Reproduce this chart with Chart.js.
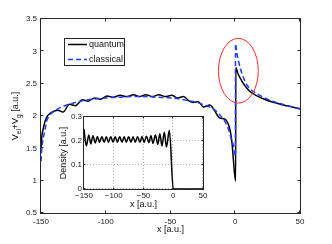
<!DOCTYPE html>
<html lang="en">
<head>
  <meta charset="UTF-8">
  <title>Vel + Vg - quantum vs classical</title>
  <script src="https://cdn.jsdelivr.net/npm/chart.js"></script>
  <style>
    html, body { margin: 0; padding: 0; background: #fff; }
    #wrap { position: relative; width: 332px; height: 244px; }
    #main { position: absolute; left: 0; top: 0; }
    #inset { position: absolute; left: 50px; top: 110px; }
  </style>
</head>
<body>
  <div id="wrap">
    <canvas id="main" width="332" height="244"></canvas>
    <canvas id="inset" width="160" height="106"></canvas>
  </div>

  <script>
    // --- data ---
    const quantumX = [-150, -149.3, -148.3, -147, -145, -143, -140.5, -137, -133, -128, -123.5, -118, -113.5, -108.5, -104, -99, -94, -89, -84, -78.5, -74, -69, -64, -59, -54, -49, -44.5, -40, -35.5, -32.5, -28.5, -24.5, -19.5, -16.5, -12, -8, -4, -2.5, 0.3, 0.4, 2, 4, 6, 9, 12, 16, 20, 25, 30, 37, 44, 50];
    const quantumY = [1.50, 1.70, 1.80, 1.91, 2.00, 2.04, 2.07, 2.09, 2.06, 2.18, 2.16, 2.25, 2.23, 2.28, 2.26, 2.31, 2.29, 2.32, 2.30, 2.33, 2.30, 2.33, 2.30, 2.33, 2.30, 2.32, 2.28, 2.30, 2.23, 2.21, 2.22, 2.14, 2.17, 2.10, 1.97, 1.95, 1.78, 1.58, 0.99, 2.75, 2.66, 2.58, 2.51, 2.43, 2.37, 2.32, 2.28, 2.24, 2.21, 2.17, 2.14, 2.11];

    const classicalX = [-150, -149.2, -148, -147, -145.5, -144, -141, -138, -134, -130, -125, -119, -110, -100, -90, -80, -70, -60, -50, -42, -37, -30, -25, -20, -15, -10, -7, -5, -3, -1.5, -0.3, 0.1, 0.2, 1, 2.4, 4, 5.5, 7, 9, 12, 14, 18, 25, 30, 37, 44, 50];
    const classicalY = [1.30, 1.53, 1.68, 1.78, 1.93, 1.99, 2.06, 2.10, 2.14, 2.17, 2.20, 2.23, 2.26, 2.28, 2.29, 2.30, 2.30, 2.29, 2.28, 2.26, 2.24, 2.21, 2.18, 2.14, 2.08, 1.97, 1.88, 1.78, 1.64, 1.55, 1.42, 1.38, 3.12, 3.00, 2.86, 2.73, 2.64, 2.56, 2.48, 2.41, 2.38, 2.33, 2.26, 2.22, 2.18, 2.14, 2.11];

    const densityX = [-150, -148.5, -146, -142, -138.5, -135, -131, -127.5, -124, -120, -116, -112.5, -109, -105, -101, -97.5, -94, -90, -86, -82.5, -79, -75, -71, -67.5, -64, -60, -56, -52.5, -49, -45, -41, -37.5, -34, -30, -26, -22.5, -19, -15, -11.5, -6.5, 0, 50];
    const densityY = [0.25, 0.215, 0.180, 0.225, 0.188, 0.222, 0.192, 0.219, 0.194, 0.218, 0.195, 0.218, 0.195, 0.218, 0.195, 0.218, 0.195, 0.218, 0.195, 0.218, 0.195, 0.218, 0.195, 0.218, 0.195, 0.218, 0.195, 0.219, 0.194, 0.220, 0.193, 0.222, 0.190, 0.225, 0.186, 0.230, 0.180, 0.236, 0.175, 0.245, 0, 0];

    const mainXTicks = [-150, -100, -50, 0, 50];
    const mainYTicks = [0.5, 1, 1.5, 2, 2.5, 3, 3.5];
    const insetXTicks = [-150, -100, -50, 0, 50];
    const insetYTicks = [0, 0.1, 0.2, 0.3];
    const seriesNames = ['quantum', 'classical'];

    // red ring around the peak, in data units
    const ringCenter = [2.4, 2.70];
    const ringRadius = [15.4, 0.50];

    const FONT = "'Liberation Sans', Arial, sans-serif";
    const AXIS = '#262626';
    const BLUE = 'rgb(30,60,255)';

    function pts(xs, ys) {
      return xs.map((x, i) => ({ x: x, y: ys[i] }));
    }

    // box plus inward tick marks, MATLAB style
    function drawBox(chart, xt, yt, len) {
      const ctx = chart.ctx, a = chart.chartArea;
      const sx = chart.scales.x, sy = chart.scales.y;
      const L = a.left - 0.5, R = a.right + 0.5, T = a.top - 0.5, B = a.bottom + 0.5;
      ctx.save();
      ctx.strokeStyle = AXIS;
      ctx.lineWidth = 1;
      ctx.setLineDash([]);
      ctx.strokeRect(L, T, R - L, B - T);
      ctx.beginPath();
      xt.forEach(v => {
        const p = Math.round(sx.getPixelForValue(v)) - 0.5;
        ctx.moveTo(p, B); ctx.lineTo(p, B - len);
        ctx.moveTo(p, T); ctx.lineTo(p, T + len);
      });
      yt.forEach(v => {
        const p = Math.round(sy.getPixelForValue(v)) - 0.5;
        ctx.moveTo(L, p); ctx.lineTo(L + len, p);
        ctx.moveTo(R, p); ctx.lineTo(R - len, p);
      });
      ctx.stroke();
      ctx.restore();
    }

    const mainDecor = {
      id: 'mainDecor',
      beforeDraw(chart) {
        const ctx = chart.ctx;
        ctx.save();
        ctx.fillStyle = '#fff';
        ctx.fillRect(0, 0, chart.width, chart.height);
        ctx.restore();
      },
      afterDatasetsDraw(chart) {
        const ctx = chart.ctx;
        const sx = chart.scales.x, sy = chart.scales.y;
        drawBox(chart, mainXTicks, mainYTicks, 3);

        // red ellipse
        const cx = sx.getPixelForValue(ringCenter[0]);
        const cy = sy.getPixelForValue(ringCenter[1]);
        const rx = sx.getPixelForValue(ringCenter[0] + ringRadius[0]) - cx;
        const ry = cy - sy.getPixelForValue(ringCenter[1] + ringRadius[1]);
        ctx.save();
        ctx.strokeStyle = '#ff2a2a';
        ctx.lineWidth = 1;
        ctx.beginPath();
        ctx.ellipse(cx, cy, rx, ry, 0, 0, Math.PI * 2);
        ctx.stroke();

        // legend
        ctx.fillStyle = '#fff';
        ctx.fillRect(64.5, 38.5, 60, 27);
        ctx.strokeStyle = AXIS;
        ctx.strokeRect(64.5, 38.5, 60, 27);
        const rows = [[seriesNames[0], '#000', [], 44.5], [seriesNames[1], BLUE, [5, 3], 59.5]];
        ctx.font = '9px ' + FONT;
        ctx.textBaseline = 'middle';
        rows.forEach(r => {
          ctx.strokeStyle = r[1];
          ctx.lineWidth = 1.5;
          ctx.setLineDash(r[2]);
          ctx.beginPath();
          ctx.moveTo(68, r[3]); ctx.lineTo(87, r[3]);
          ctx.stroke();
          ctx.setLineDash([]);
          ctx.fillStyle = '#111';
          ctx.fillText(r[0], 89, r[3] + 0.5);
        });

        // y title with subscripts
        ctx.translate(18, 116);
        ctx.rotate(-Math.PI / 2);
        const parts = [['V', 9, 0], ['el', 6.5, 3], ['+V', 9, 0], ['g', 6.5, 3], [' [a.u.]', 9, 0]];
        let total = 0;
        parts.forEach(p => { ctx.font = p[1] + 'px ' + FONT; total += ctx.measureText(p[0]).width; });
        let x = -total / 2;
        ctx.textBaseline = 'alphabetic';
        ctx.fillStyle = '#111';
        parts.forEach(p => {
          ctx.font = p[1] + 'px ' + FONT;
          ctx.fillText(p[0], x, p[2]);
          x += ctx.measureText(p[0]).width;
        });
        ctx.restore();
      }
    };

    const insetDecor = {
      id: 'insetDecor',
      beforeDraw(chart) {
        const ctx = chart.ctx, a = chart.chartArea;
        ctx.save();
        ctx.fillStyle = '#fff';
        ctx.fillRect(a.left, a.top, a.right - a.left, a.bottom - a.top);
        ctx.restore();
      },
      beforeDatasetsDraw(chart) {
        const ctx = chart.ctx, a = chart.chartArea;
        const sx = chart.scales.x, sy = chart.scales.y;
        ctx.save();
        ctx.strokeStyle = '#b5b5b5';
        ctx.lineWidth = 1;
        ctx.setLineDash([1, 2]);
        ctx.beginPath();
        insetXTicks.forEach(v => {
          const p = Math.round(sx.getPixelForValue(v)) - 0.5;
          ctx.moveTo(p, a.top); ctx.lineTo(p, a.bottom);
        });
        insetYTicks.forEach(v => {
          const p = Math.round(sy.getPixelForValue(v)) - 0.5;
          ctx.moveTo(a.left, p); ctx.lineTo(a.right, p);
        });
        ctx.stroke();
        ctx.restore();
      },
      afterDatasetsDraw(chart) {
        drawBox(chart, insetXTicks, insetYTicks, 2);
      }
    };

    function tickFont() { return { family: FONT, size: 8 }; }

    new Chart(document.getElementById('main'), {
      type: 'line',
      data: {
        datasets: [
          {
            label: seriesNames[0],
            data: pts(quantumX, quantumY),
            borderColor: '#000',
            borderWidth: 1.5,
            pointRadius: 0,
            cubicInterpolationMode: 'monotone',
            order: 1
          },
          {
            label: seriesNames[1],
            data: pts(classicalX, classicalY),
            borderColor: BLUE,
            borderWidth: 1.5,
            borderDash: [5, 3],
            pointRadius: 0,
            cubicInterpolationMode: 'monotone',
            order: 0
          }
        ]
      },
      options: {
        responsive: false,
        animation: false,
        layout: { padding: { left: 0, right: 32, top: 19, bottom: 0 } },
        plugins: { legend: { display: false }, tooltip: { enabled: false } },
        scales: {
          x: {
            type: 'linear',
            min: -150, max: 50,
            afterBuildTicks: s => { s.ticks = mainXTicks.map(v => ({ value: v })); },
            ticks: { font: tickFont(), color: '#222', padding: 4, maxRotation: 0, autoSkip: false, callback: v => String(v) },
            grid: { display: false, drawTicks: false },
            border: { display: false },
            title: { display: true, text: 'x [a.u.]', font: { family: FONT, size: 9 }, color: '#111', padding: { top: 0, bottom: 9 } },
            afterFit: s => { s.height = 31; }
          },
          y: {
            min: 0.5, max: 3.5,
            afterBuildTicks: s => { s.ticks = mainYTicks.map(v => ({ value: v })); },
            ticks: { font: tickFont(), color: '#222', padding: 4, autoSkip: false, callback: v => String(v) },
            grid: { display: false, drawTicks: false },
            border: { display: false },
            afterFit: s => { s.width = 41; }
          }
        }
      },
      plugins: [mainDecor]
    });

    new Chart(document.getElementById('inset'), {
      type: 'line',
      data: {
        datasets: [{
          label: 'Density',
          data: pts(densityX, densityY),
          borderColor: '#000',
          borderWidth: 1.5,
          pointRadius: 0,
          cubicInterpolationMode: 'monotone'
        }]
      },
      options: {
        responsive: false,
        animation: false,
        layout: { padding: { left: 0, right: 7, top: 7, bottom: 0 } },
        plugins: { legend: { display: false }, tooltip: { enabled: false } },
        scales: {
          x: {
            type: 'linear',
            min: -150, max: 50,
            afterBuildTicks: s => { s.ticks = insetXTicks.map(v => ({ value: v })); },
            ticks: {
              font: tickFont(), color: '#222', padding: 2, maxRotation: 0, autoSkip: false,
              callback: v => String(v).replace('-', '\u2212')
            },
            grid: { display: false, drawTicks: false },
            border: { display: false },
            title: { display: true, text: 'x [a.u.]', font: { family: FONT, size: 9 }, color: '#111', padding: { top: 0, bottom: 6 } },
            afterFit: s => { s.height = 27; }
          },
          y: {
            min: 0, max: 0.3,
            afterBuildTicks: s => { s.ticks = insetYTicks.map(v => ({ value: v })); },
            ticks: { font: tickFont(), color: '#222', padding: 2, autoSkip: false, callback: v => String(v) },
            grid: { display: false, drawTicks: false },
            border: { display: false },
            title: { display: true, text: 'Density [a.u.]', font: { family: FONT, size: 9 }, color: '#111', padding: { top: 8, bottom: 0 } },
            afterFit: s => { s.width = 34; }
          }
        }
      },
      plugins: [insetDecor]
    });
  </script>
</body>
</html>
